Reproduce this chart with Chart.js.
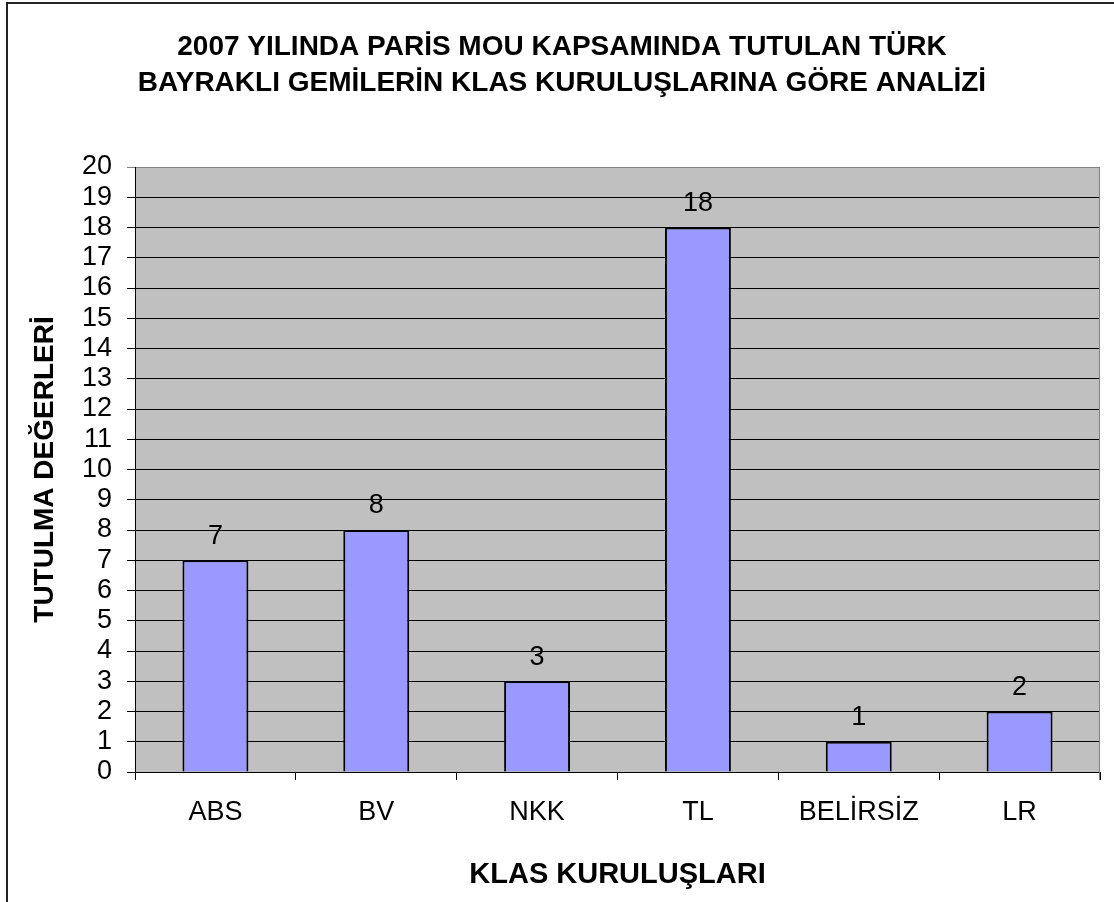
<!DOCTYPE html>
<html>
<head>
<meta charset="utf-8">
<script src="https://cdn.jsdelivr.net/npm/chart.js@4/dist/chart.umd.min.js"></script>
<style>
  html, body { margin: 0; padding: 0; background: #fff; }
  canvas { display: block; }
</style>
</head>
<body>
<canvas id="barChart" width="1114" height="902"></canvas>
<script>
// =========================
// 数据
// =========================
const titleLines = [
  '2007 YILINDA PARİS MOU KAPSAMINDA TUTULAN TÜRK',
  'BAYRAKLI GEMİLERİN KLAS KURULUŞLARINA GÖRE ANALİZİ'
];
const categories = ['ABS', 'BV', 'NKK', 'TL', 'BELİRSİZ', 'LR'];
const detentions = [7, 8, 3, 18, 1, 2];
const yMin = 0;
const yMax = 20;
const yStep = 1;
const xTitle = 'KLAS KURULUŞLARI';
const yTitle = 'TUTULMA DEĞERLERİ';

const FONT = "'Liberation Sans', Arial, sans-serif";

// 背景、外框、柱顶数字
const excelLook = {
  id: 'excelLook',
  beforeDraw(chart) {
    const { ctx, chartArea: a } = chart;
    ctx.save();
    ctx.fillStyle = '#fff';
    ctx.fillRect(0, 0, chart.width, chart.height);
    // 外框（只露出左边和上边）
    ctx.strokeStyle = '#222';
    ctx.lineWidth = 2;
    ctx.beginPath();
    ctx.moveTo(7, chart.height + 5);
    ctx.lineTo(7, 3);
    ctx.lineTo(chart.width + 5, 3);
    ctx.stroke();
    // 灰色绘图区
    ctx.fillStyle = '#c0c0c0';
    ctx.fillRect(a.left, a.top, a.right - a.left, a.bottom - a.top);
    ctx.restore();
  },
  afterDraw(chart) {
    const { ctx, chartArea: a } = chart;
    ctx.save();
    ctx.strokeStyle = '#808080';
    ctx.lineWidth = 1;
    ctx.beginPath();
    ctx.moveTo(a.right - 0.5, a.top);
    ctx.lineTo(a.right - 0.5, a.bottom + 8);
    ctx.stroke();

    const meta = chart.getDatasetMeta(0);
    ctx.fillStyle = '#000';
    ctx.font = '27px ' + FONT;
    ctx.textAlign = 'center';
    ctx.textBaseline = 'middle';
    meta.data.forEach((bar, i) => {
      ctx.fillText(String(detentions[i]), bar.x, bar.y - 24);
    });
    ctx.restore();
  }
};

new Chart(document.getElementById('barChart').getContext('2d'), {
  type: 'bar',
  data: {
    labels: categories,
    datasets: [{
      data: detentions,
      backgroundColor: '#9999ff',
      borderColor: '#000',
      borderWidth: 2,
      categoryPercentage: 1,
      barPercentage: 0.41
    }]
  },
  options: {
    responsive: false,
    animation: false,
    layout: { padding: { left: 24, right: 14, top: 0, bottom: 0 } },
    plugins: {
      legend: { display: false },
      tooltip: { enabled: false },
      title: {
        display: true,
        text: titleLines,
        color: '#000',
        font: { family: FONT, size: 28, weight: 'bold', lineHeight: 1.286 },
        padding: { top: 29, bottom: 66 }
      }
    },
    scales: {
      x: {
        grid: {
          offset: true,
          drawOnChartArea: false,
          drawTicks: true,
          tickLength: 8,
          color: '#000'
        },
        border: { color: '#000', width: 1 },
        ticks: {
          color: '#000',
          font: { family: FONT, size: 27 },
          padding: 16,
          maxRotation: 0
        },
        title: {
          display: true,
          text: xTitle,
          color: '#000',
          font: { family: FONT, size: 29, weight: 'bold' },
          padding: { top: 4, bottom: 10 }
        },
        afterFit(scale) { scale.height = 130; }
      },
      y: {
        min: yMin,
        max: yMax,
        grid: {
          color: (c) => (c.tick && c.tick.value === yMax ? '#808080' : '#000'),
          tickLength: 8
        },
        border: { color: '#000', width: 1 },
        ticks: {
          stepSize: yStep,
          autoSkip: false,
          color: '#000',
          font: { family: FONT, size: 27 },
          padding: 15
        },
        title: {
          display: true,
          text: yTitle,
          color: '#000',
          font: { family: FONT, size: 28, weight: 'bold' },
          padding: { top: 4, bottom: 4 }
        },
        afterFit(scale) { scale.width = 111; }
      }
    }
  },
  plugins: [excelLook]
});
</script>
</body>
</html>
